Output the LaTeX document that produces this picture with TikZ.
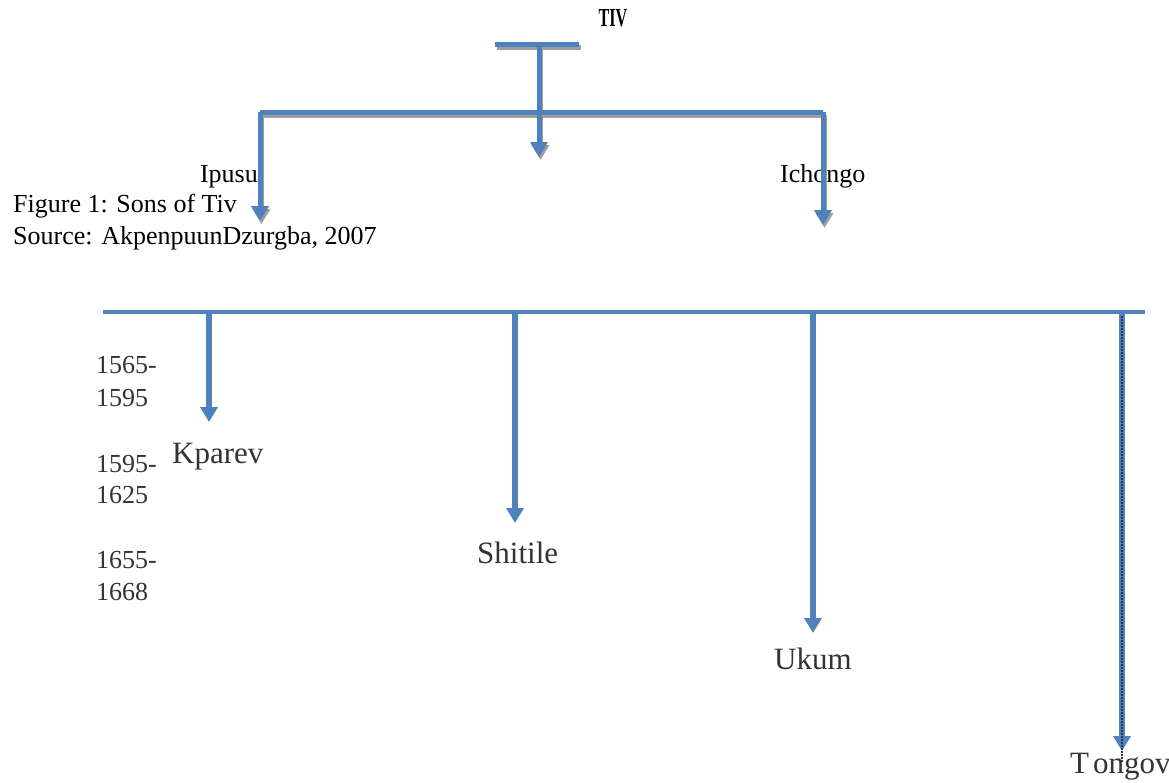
\documentclass[tikz,border=0pt]{standalone}
\usepackage{fontspec}
\setmainfont{Liberation Serif}
\usetikzlibrary{arrows.meta}
\definecolor{tivblue}{RGB}{79,129,189}
\tikzset{
	txt/.style={font=\fontsize{26}{30}\selectfont, inner sep=0pt},
	son/.style={font=\fontsize{31}{34}\selectfont, inner sep=0pt, text=black!80},
	yr/.style={font=\fontsize{26}{30}\selectfont, inner sep=0pt, text=black!80},
	link/.style={draw=tivblue, line width=5pt},
	shade/.style={draw=black!38, line width=5pt, transform canvas={shift={(1.5pt,-3pt)}}},
	tip/.style={-{Triangle[width=17pt,length=15pt]}}
}
\begin{document}
\begin{tikzpicture}[x=1pt, y=-1pt]
	\useasboundingbox[fill=white] (0,0) rectangle (1169,782);
	% title and caption
	\node[inner sep=0pt] (tiv) at (613,18) {\scalebox{0.62}[1]{\fontsize{26}{30}\selectfont\bfseries TIV}};
	\node[txt, anchor=base east] (ipusu) at (258,182) {Ipusu};
	\node[txt, anchor=base west] (ichongo) at (780,182) {Ichongo};
	\node[txt, anchor=base west] (fig) at (13,212) {Figure 1: Sons of Tiv};
	\node[txt, anchor=base west] (src) at (13,244) {Source: AkpenpuunDzurgba, 2007};
	% upper tree
	\coordinate (barL) at (495,44);
	\coordinate (barR) at (579,44);
	\coordinate (root) at (539,44);
	\coordinate (midEnd) at (539,157);
	\coordinate (splitL) at (260,112);
	\coordinate (splitR) at (823,112);
	\coordinate (ipEnd) at (260,221);
	\coordinate (icEnd) at (823,225);
	\begin{scope}
		\draw[shade] (barL) -- (barR);
		\draw[shade] (splitL) -- (splitR);
		\draw[shade, tip] (root) -- (midEnd);
		\draw[shade, tip] (splitL) -- (ipEnd);
		\draw[shade, tip] (splitR) -- (icEnd);
	\end{scope}
	\draw[link] (barL) -- (barR);
	\draw[link] (splitL) -- (splitR);
	\draw[link, tip] (root) -- (midEnd);
	\draw[link, tip] (splitL) -- (ipEnd);
	\draw[link, tip] (splitR) -- (icEnd);
	% lower tree
	\coordinate (lineL) at (103,312);
	\coordinate (lineR) at (1145,312);
	\draw[draw=tivblue, line width=4pt] (lineL) -- (lineR);
	\foreach \name/\x/\y in {kp/209/422, sh/515/523, uk/813/633, to/1122/751}{
		\coordinate (\name Top) at (\x,312);
		\coordinate (\name End) at (\x,\y);
		\draw[link, line width=6pt, tip] (\name Top) -- (\name End);
	}
	\draw[tivblue!45!black, line width=2pt, dash pattern=on 1.5pt off 1.5pt] ([yshift=-4pt]toTop) -- ([yshift=-12pt]toEnd);
	% years
	\node[yr, anchor=base west] (y1) at (96,373) {1565-};
	\node[yr, anchor=base west] (y2) at (96,406) {1595};
	\node[yr, anchor=base west] (y3) at (96,472) {1595-};
	\node[yr, anchor=base west] (y4) at (96,503) {1625};
	\node[yr, anchor=base west] (y5) at (96,568) {1655-};
	\node[yr, anchor=base west] (y6) at (96,600) {1668};
	% sons
	\node[son, anchor=base west] (kparev) at (172,463) {Kparev};
	\node[son, anchor=base west] (shitile) at (477,563) {Shitile};
	\node[son, anchor=base west] (ukum) at (774,669) {Ukum};
	\node[son, anchor=base west] (tongov) at (1070,773) {T\kern4pt ongov};
\end{tikzpicture}
\end{document}
